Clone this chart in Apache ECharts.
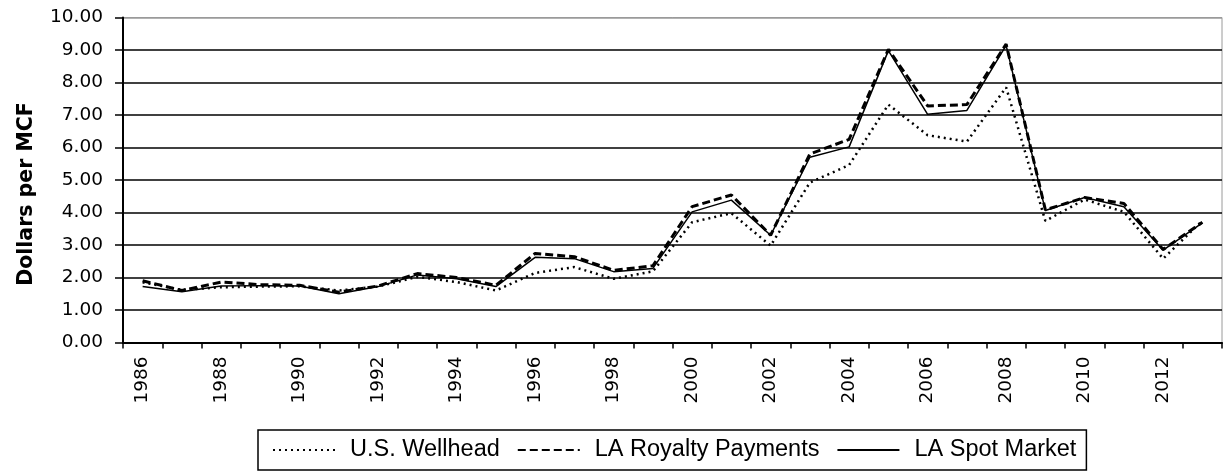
<!DOCTYPE html>
<html>
<head>
<meta charset="utf-8">
<script src="https://cdn.jsdelivr.net/npm/echarts@6/dist/echarts.min.js"></script>
<style>
  html, body { margin: 0; padding: 0; background: #fff; }
  #chartDiv { width: 1225px; height: 472px; }
</style>
</head>
<body>
<div id="chartDiv"></div>
<script>
var years = ['1986', '1987', '1988', '1989', '1990', '1991', '1992', '1993', '1994', '1995',
    '1996', '1997', '1998', '1999', '2000', '2001', '2002', '2003', '2004', '2005',
    '2006', '2007', '2008', '2009', '2010', '2011', '2012', '2013'];

// dollars per MCF
var usWellhead = [1.85, 1.62, 1.70, 1.72, 1.73, 1.60, 1.72, 2.02, 1.86, 1.60,
    2.14, 2.32, 1.96, 2.19, 3.70, 3.98, 2.98, 4.92, 5.46, 7.32,
    6.38, 6.18, 7.85, 3.74, 4.40, 4.02, 2.58, 3.75];
var laRoyalty = [1.90, 1.60, 1.86, 1.78, 1.76, 1.55, 1.74, 2.12, 2.00, 1.76,
    2.74, 2.64, 2.22, 2.36, 4.18, 4.54, 3.30, 5.80, 6.25, 9.02,
    7.28, 7.32, 9.18, 4.08, 4.46, 4.28, 2.86, 3.70];
var laSpot = [1.72, 1.56, 1.74, 1.75, 1.74, 1.50, 1.72, 2.08, 1.96, 1.72,
    2.62, 2.58, 2.18, 2.28, 4.02, 4.38, 3.30, 5.70, 6.02, 8.98,
    7.02, 7.14, 9.14, 4.06, 4.46, 4.18, 2.84, 3.68];

var seriesNames = ['U.S. Wellhead', 'LA Royalty Payments', 'LA Spot Market'];

var chart = echarts.init(document.getElementById('chartDiv'));

//分隔线颜色, 最上面一条是灰色边框
var gridColors = [];
for (var i = 0; i < 10; i++) gridColors.push('#000');
gridColors.push('#9a9a9a');

var option = {
    animation: false,
    backgroundColor: '#fff',
    grid: {
        left: 123,
        right: 3,
        top: 17.5,
        bottom: 129.5,
        show: true,
        borderColor: '#9a9a9a',
        borderWidth: 1
    },
    legend: {
        left: 258,
        top: 430,
        orient: 'horizontal',
        data: seriesNames,
        itemWidth: 62,
        itemHeight: 10,
        itemGap: 17,
        padding: [8, 10, 8, 14],
        borderColor: '#000',
        borderWidth: 1.5,
        itemStyle: { opacity: 0 },
        textStyle: {
            fontFamily: 'Liberation Sans',
            fontSize: 23.5,
            color: '#000',
            padding: [0, 0, 0, 10]
        }
    },
    xAxis: {
        type: 'category',
        data: years,
        boundaryGap: true,
        axisLine: { lineStyle: { color: '#000', width: 2 } },
        axisTick: { show: true, interval: 0, length: 6, lineStyle: { color: '#000', width: 1.5 } },
        axisLabel: {
            interval: 1,
            rotate: 90,
            margin: 14,
            color: '#000',
            fontFamily: 'DejaVu Sans',
            fontSize: 18.5
        },
        splitLine: { show: false }
    },
    yAxis: {
        type: 'value',
        min: 0,
        max: 10,
        interval: 1,
        name: 'Dollars per MCF',
        nameLocation: 'middle',
        nameGap: 86,
        nameTextStyle: {
            fontFamily: 'DejaVu Sans',
            fontWeight: 'bold',
            fontSize: 20.5,
            color: '#000',
            padding: [0, 28, 0, 0]
        },
        axisLine: { show: true, lineStyle: { color: '#000', width: 2 } },
        axisTick: { show: true, length: 8, lineStyle: { color: '#000', width: 1.5 } },
        axisLabel: {
            margin: 20,
            color: '#000',
            fontFamily: 'DejaVu Sans',
            fontSize: 18.5,
            formatter: function (v) { return v.toFixed(2); }
        },
        splitLine: { show: true, lineStyle: { color: gridColors, width: 1.5 } }
    },
    series: [
        {
            name: seriesNames[0],
            type: 'line',
            data: usWellhead,
            symbol: 'none',
            lineStyle: { color: '#000', width: 2.5, type: [2, 4] },
            itemStyle: { color: '#000' }
        },
        {
            name: seriesNames[1],
            type: 'line',
            data: laRoyalty,
            symbol: 'none',
            lineStyle: { color: '#000', width: 3, type: [8, 4] },
            itemStyle: { color: '#000' }
        },
        {
            name: seriesNames[2],
            type: 'line',
            data: laSpot,
            symbol: 'none',
            lineStyle: { color: '#000', width: 1.5, type: 'solid' },
            itemStyle: { color: '#000' }
        }
    ]
};
chart.setOption(option);
</script>
</body>
</html>
